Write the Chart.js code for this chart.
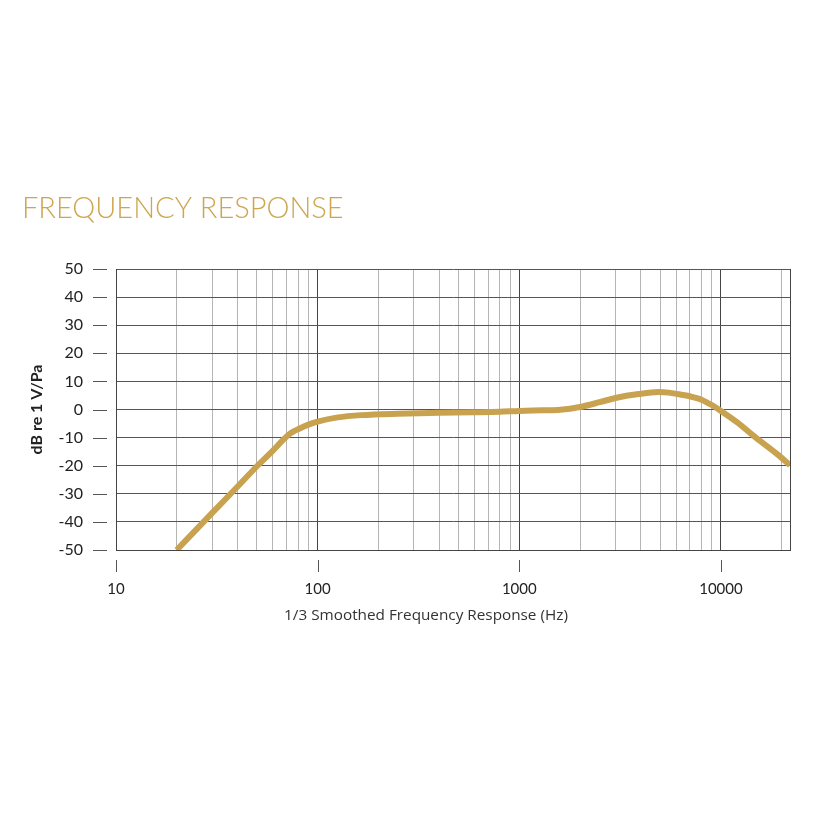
<!DOCTYPE html>
<html>
<head>
<meta charset="utf-8">
<script src="https://cdn.jsdelivr.net/npm/chart.js@4.4.1/dist/chart.umd.min.js"></script>
<style>
html,body{margin:0;padding:0;background:#fff;}
#wrap{width:820px;height:820px;position:relative;}
canvas{display:block;}
</style>
</head>
<body>
<div id="wrap"><canvas id="c" width="820" height="820"></canvas></div>
<script>
const freqs = [20, 30, 40, 50, 60, 67, 72, 76, 80, 90, 100, 126, 165, 250, 400, 600, 800, 1000, 1300, 1600, 2000, 2500, 3000, 3900, 4900, 5500, 6200, 7000, 8000, 9000, 10000, 12000, 15000, 19000, 22000];
const levels = [-50, -36.8, -27.5, -20.2, -14.6, -11.0, -8.9, -7.8, -7.0, -5.4, -4.3, -2.8, -2.0, -1.5, -1.2, -1.0, -0.8, -0.5, -0.3, -0.1, 0.9, 2.6, 4.1, 5.5, 6.2, 6.0, 5.4, 4.7, 3.5, 1.6, -0.5, -4.5, -10.2, -15.9, -19.8];
const xGridValues = [10,20,30,40,50,60,70,80,90,100,200,300,400,500,600,700,800,900,1000,2000,3000,4000,5000,6000,7000,8000,9000,10000,20000,22000];
const xLabelValues = [10, 100, 1000, 10000];
const yTickValues = [-50,-40,-30,-20,-10,0,10,20,30,40,50];
const xAxisTitle = '1/3 Smoothed Frequency Response (Hz)';

const gold = '#C9A24F';

const extras = {
  id: 'extras',
  afterDraw(chart) {
    const ctx = chart.ctx;
    const xs = chart.scales.x, ys = chart.scales.y;
    ctx.save();
    ctx.strokeStyle = '#555';
    ctx.lineWidth = 1;
    yTickValues.forEach(v => {
      const y = Math.round(ys.getPixelForValue(v)) + 0.5;
      ctx.beginPath(); ctx.moveTo(93, y); ctx.lineTo(107, y); ctx.stroke();
    });
    xLabelValues.forEach(v => {
      const x = Math.round(xs.getPixelForValue(v)) + 0.5;
      ctx.beginPath(); ctx.moveTo(x, 560); ctx.lineTo(x, 572); ctx.stroke();
    });
    ctx.fillStyle = '#333';
    ctx.font = '15.3px "Open Sans"';
    ctx.textAlign = 'center';
    ctx.textBaseline = 'middle';
    ctx.fillText(xAxisTitle, 426, 616);
    ctx.restore();
  }
};

new Chart(document.getElementById('c'), {
  type: 'line',
  data: {
    datasets: [{
      data: freqs.map((f, i) => ({x: f, y: levels[i]})),
      borderColor: gold,
      borderWidth: 6,
      pointRadius: 0,
      cubicInterpolationMode: 'monotone',
      fill: false
    }]
  },
  options: {
    responsive: false,
    animation: false,
    devicePixelRatio: 1,
    layout: {padding: {left: 22, right: 29, top: 0, bottom: 190}},
    plugins: {
      legend: {display: false},
      tooltip: {enabled: false},
      title: {
        display: true,
        text: 'FREQUENCY RESPONSE',
        align: 'start',
        color: '#CDA650',
        font: {family: 'Lato', size: 29, weight: '300'},
        padding: {top: 191, bottom: 43.2}
      }
    },
    scales: {
      x: {
        type: 'logarithmic',
        min: 10,
        max: 22000,
        afterBuildTicks(scale) { scale.ticks = xGridValues.map(v => ({value: v})); },
        afterFit(scale) { scale.height = 80; },
        ticks: {
          autoSkip: false,
          maxRotation: 0,
          padding: 30,
          color: '#222',
          font: {family: 'Lato', size: 15},
          callback(v) { return xLabelValues.includes(v) ? String(v) : ''; }
        },
        grid: {
          drawTicks: false,
          color(ctx) { const v = ctx.tick && ctx.tick.value; return (xLabelValues.includes(v) || v === 22000) ? '#444' : '#b5b5b5'; },
          lineWidth: 1
        },
        border: {display: true, color: '#444'},
        title: {display: false}
      },
      y: {
        min: -50,
        max: 50,
        afterBuildTicks(scale) { scale.ticks = yTickValues.map(v => ({value: v})); },
        afterFit(scale) { scale.width = 94; },
        ticks: {
          padding: 33,
          color: '#222',
          font: {family: 'Lato', size: 16}
        },
        grid: {drawTicks: false, color: '#555', lineWidth: 1},
        border: {display: true, color: '#444'},
        title: {
          display: true,
          text: 'dB re 1 V/Pa',
          color: '#222',
          font: {family: 'Lato', size: 16, weight: 'bold'},
          padding: {top: 5, bottom: 0}
        }
      }
    }
  },
  plugins: [extras]
});
</script>
</body>
</html>
